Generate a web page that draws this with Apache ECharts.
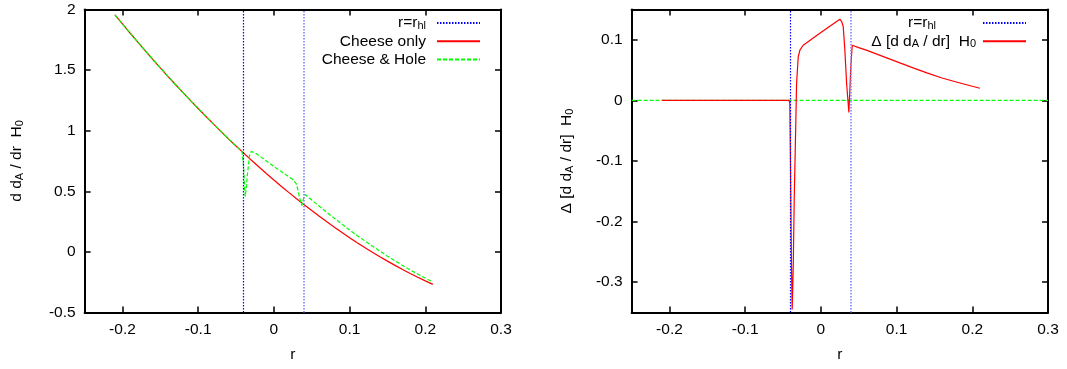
<!DOCTYPE html>
<html>
<head>
<meta charset="utf-8">
<script src="https://cdn.jsdelivr.net/npm/echarts@6/dist/echarts.min.js"></script>
<style>
    html, body { margin: 0; padding: 0; background: #fff; }
    #chart { width: 1067px; height: 369px; }
</style>
</head>
<body>
<div id="chart"></div>
<script>
// left panel: cheese only
var rCheese = [-0.21, -0.20, -0.19, -0.18, -0.17, -0.16, -0.15, -0.14, -0.13, -0.12, -0.11,
    -0.10, -0.09, -0.08, -0.07, -0.06, -0.05, -0.042, -0.04, -0.03, -0.02, -0.01, 0,
    0.01, 0.02, 0.03, 0.04, 0.05, 0.06, 0.07, 0.08, 0.09, 0.10, 0.11, 0.12, 0.13, 0.14,
    0.15, 0.16, 0.17, 0.18, 0.19, 0.20, 0.21];
var ddaCheese = [1.956, 1.881, 1.806, 1.733, 1.660, 1.589, 1.519, 1.449, 1.381, 1.314, 1.248,
    1.183, 1.119, 1.056, 0.994, 0.933, 0.874, 0.827, 0.815, 0.758, 0.702, 0.647, 0.593,
    0.540, 0.489, 0.438, 0.389, 0.341, 0.294, 0.248, 0.203, 0.160, 0.117, 0.076, 0.036, -0.002, -0.040,
    -0.076, -0.111, -0.145, -0.178, -0.209, -0.239, -0.268];

// left panel: cheese & hole
var rHoleCurve = [-0.21, -0.20, -0.19, -0.18, -0.17, -0.16, -0.15, -0.14, -0.13, -0.12, -0.11,
    -0.10, -0.09, -0.08, -0.07, -0.06, -0.05, -0.042, -0.041, -0.040, -0.0388, -0.0379, -0.0365,
    -0.0352, -0.0334, -0.0321, -0.0299, -0.0277, -0.0234, 0, 0.0251, 0.0275, 0.0295, 0.0317,
    0.034, 0.037, 0.0396, 0.0414, 0.05, 0.06, 0.07, 0.08, 0.09, 0.10, 0.11, 0.12, 0.13, 0.14,
    0.15, 0.16, 0.17, 0.18, 0.19, 0.20, 0.21];
var ddaHole = [1.956, 1.881, 1.806, 1.733, 1.660, 1.589, 1.519, 1.449, 1.381, 1.314, 1.248,
    1.183, 1.119, 1.056, 0.994, 0.933, 0.874, 0.827, 0.816, 0.706, 0.535, 0.458, 0.521,
    0.624, 0.723, 0.798, 0.829, 0.828, 0.812, 0.705, 0.597, 0.581, 0.563, 0.513,
    0.446, 0.383, 0.447, 0.473, 0.428, 0.377, 0.326, 0.277, 0.229, 0.181, 0.135, 0.091, 0.048, 0.006,
    -0.035, -0.074, -0.112, -0.148, -0.183, -0.216, -0.248];

// right panel: difference
var rDelta = [-0.21, -0.042, -0.041, -0.0401, -0.0388, -0.0379, -0.0365, -0.0352, -0.0334,
    -0.0321, -0.0299, -0.0277, -0.0234, 0, 0.0251, 0.0275, 0.0295, 0.0317, 0.034, 0.037,
    0.0396, 0.0414, 0.05, 0.06, 0.08, 0.10, 0.12, 0.14, 0.16, 0.18, 0.21];
var ddaDelta = [0, 0, -0.005, -0.109, -0.274, -0.345, -0.274, -0.164, -0.054,
    0.028, 0.072, 0.083, 0.091, 0.112, 0.134, 0.130, 0.122, 0.083, 0.028, -0.020,
    0.056, 0.091, 0.087, 0.083, 0.0735, 0.064, 0.0545, 0.0455, 0.037, 0.030, 0.020];
var rZero = [-0.25, 0.3];
var ddaZero = [0, 0];

var rHole = [-0.042, 0.042];

var xTicks = [-0.2, -0.1, 0, 0.1, 0.2, 0.3];
var yTicksLeft = [-0.5, 0, 0.5, 1, 1.5, 2];
var yTicksRight = [-0.3, -0.2, -0.1, 0, 0.1];

var FONT = '"Liberation Sans", Arial, sans-serif';
var FS = 15.5;

function zip(xs, ys) {
    var out = [];
    for (var i = 0; i < xs.length; i++) {
        out.push([xs[i], ys[i]]);
    }
    return out;
}

var richText = {
    t: { fontFamily: FONT, fontSize: FS, color: '#000', lineHeight: 14 },
    s: { fontFamily: FONT, fontSize: 11, color: '#000', lineHeight: 1, verticalAlign: 'bottom' },
    g: { width: 6 },
    w: { width: 42 },
    h: { width: 2 }
};

var legendLabels = {
    rhlL: '{t|r=r}{s|hl}{g|}',
    cheese: '{t|Cheese only}{g|}',
    hole: '{t|Cheese & Hole}{g|}',
    rhlR: '{t|r=r}{s|hl}{w|}',
    delta: '{t|\u0394 [d d}{s|A}{t| / dr]  H}{s|0}{h|}'
};

var nameRich = {
    n: { fontFamily: FONT, fontSize: FS, color: '#000', lineHeight: 18 },
    s: { fontFamily: FONT, fontSize: 11, color: '#000', lineHeight: 5, verticalAlign: 'bottom' }
};

function xAxisFor(grid, position, min, max) {
    var bottom = position === 'bottom';
    return {
        type: 'value', gridIndex: grid, position: position, min: min, max: max,
        name: bottom ? 'r' : '', nameLocation: 'middle', nameGap: 34,
        nameTextStyle: { fontFamily: FONT, fontSize: FS, color: '#000' },
        axisLine: { show: true, onZero: false, lineStyle: { color: '#000', width: 2 } },
        axisTick: { show: true, inside: true, length: 6, customValues: xTicks, lineStyle: { color: '#000', width: 1.5 } },
        axisLabel: { show: bottom, margin: 9, customValues: xTicks, fontFamily: FONT, fontSize: FS, color: '#000' },
        splitLine: { show: false }
    };
}

function yAxisFor(grid, position, min, max, ticks, name, gap) {
    var left = position === 'left';
    return {
        type: 'value', gridIndex: grid, position: position, min: min, max: max,
        name: left ? name : '', nameLocation: 'middle', nameGap: gap, nameRotate: 90,
        nameTextStyle: { rich: nameRich },
        axisLine: { show: true, onZero: false, lineStyle: { color: '#000', width: 2 } },
        axisTick: { show: true, inside: true, length: 6, customValues: ticks, lineStyle: { color: '#000', width: 1.5 } },
        axisLabel: { show: left, margin: 9, customValues: ticks, fontFamily: FONT, fontSize: FS, color: '#000' },
        splitLine: { show: false }
    };
}

function holeLines(xIdx, yIdx, name) {
    return {
        name: name, type: 'line', xAxisIndex: xIdx, yAxisIndex: yIdx, data: [],
        symbol: 'none',
        lineStyle: { color: '#0000ff', width: 1.2, type: [1.5, 1.5] },
        markLine: {
            silent: true, symbol: ['none', 'none'], animation: false,
            label: { show: false },
            lineStyle: { color: '#0000ff', width: 1.2, type: [1.5, 1.5] },
            data: [
                { xAxis: rHole[0] },
                { xAxis: rHole[1], lineStyle: { color: '#8080ff', width: 1.6, type: [1.5, 1.5] } }
            ]
        }
    };
}

function legendFor(names, right) {
    return {
        data: names, orient: 'vertical', align: 'right',
        right: right, top: 15, padding: 0, itemWidth: 43, itemHeight: 10, itemGap: 2.3,
        selectedMode: false,
        itemStyle: { color: 'rgba(0,0,0,0)', borderWidth: 0, opacity: 0 },
        formatter: function (name) { return legendLabels[name]; },
        textStyle: { fontFamily: FONT, fontSize: FS, color: '#000', rich: richText }
    };
}

function getChartOption() {
    return {
        animation: false,
        backgroundColor: '#fff',
        grid: [
            { left: 84.6, top: 9.5, width: 416.4, height: 303, outerBoundsMode: 'none' },
            { left: 631.6, top: 9.5, width: 416.4, height: 303, outerBoundsMode: 'none' }
        ],
        legend: [
            legendFor(['rhlL', 'cheese', 'hole'], 586),
            legendFor(['rhlR', 'delta'], 40)
        ],
        xAxis: [
            xAxisFor(0, 'bottom', -0.25, 0.3),
            xAxisFor(0, 'top', -0.25, 0.3),
            xAxisFor(1, 'bottom', -0.25, 0.3),
            xAxisFor(1, 'top', -0.25, 0.3)
        ],
        yAxis: [
            yAxisFor(0, 'left', -0.5, 2, yTicksLeft, '{n|d d}{s|A}{n| / dr  H}{s|0}', 59),
            yAxisFor(0, 'right', -0.5, 2, yTicksLeft, '', 0),
            yAxisFor(1, 'left', -0.35, 0.15, yTicksRight, '{n|\u0394 [d d}{s|A}{n| / dr]  H}{s|0}', 56),
            yAxisFor(1, 'right', -0.35, 0.15, yTicksRight, '', 0)
        ],
        series: [
            holeLines(0, 0, 'rhlL'),
            {
                name: 'cheese', type: 'line', xAxisIndex: 0, yAxisIndex: 0,
                data: zip(rCheese, ddaCheese), symbol: 'none',
                lineStyle: { color: '#ff0000', width: 1.2 }
            },
            {
                name: 'hole', type: 'line', xAxisIndex: 0, yAxisIndex: 0,
                data: zip(rHoleCurve, ddaHole), symbol: 'none',
                lineStyle: { color: '#00ff00', width: 1.2, type: [4, 2] }
            },
            holeLines(2, 2, 'rhlR'),
            {
                name: 'zero', type: 'line', xAxisIndex: 2, yAxisIndex: 2,
                data: zip(rZero, ddaZero), symbol: 'none',
                lineStyle: { color: '#00ff00', width: 1.2, type: [4, 2] }
            },
            {
                name: 'delta', type: 'line', xAxisIndex: 2, yAxisIndex: 2,
                data: zip(rDelta, ddaDelta), symbol: 'none',
                lineStyle: { color: '#ff0000', width: 1.2 }
            }
        ]
    };
}

var chartInstance = echarts.init(document.getElementById('chart'));
chartInstance.setOption(getChartOption());
</script>
</body>
</html>
